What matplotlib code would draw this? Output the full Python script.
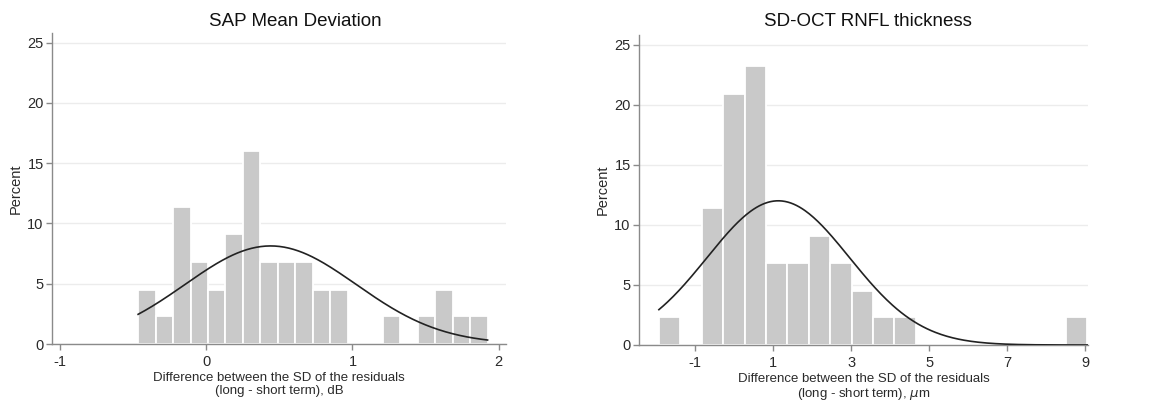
import numpy as np
import matplotlib
matplotlib.use("Agg")
import matplotlib.pyplot as plt

plt.rcParams["font.family"] = ["Liberation Sans", "DejaVu Sans"]
plt.rcParams["axes.unicode_minus"] = False

# left panel: SAP mean deviation (dB)
sap_start = -0.466
sap_width = 0.1195
sap_pct = [4.5, 2.3, 11.4, 6.8, 4.5, 9.1, 16.0, 6.8, 6.8, 6.8,
           4.5, 4.5, 0, 0, 2.3, 0, 2.3, 4.5, 2.3, 2.3]
sap_mean = 0.44
sap_sd = 0.586
sap_ticks = [-1, 0, 1, 2]

# right panel: SD-OCT RNFL thickness (um)
oct_start = -1.93
oct_width = 0.549
oct_pct = [2.3, 0, 11.4, 20.9, 23.2, 6.8, 6.8, 9.1, 6.8, 4.5,
           2.3, 2.3, 0, 0, 0, 0, 0, 0, 0, 2.3]
oct_mean = 1.13
oct_sd = 1.825
oct_ticks = [-1, 1, 3, 5, 7, 9]

y_ticks = [0, 5, 10, 15, 20, 25]

AXIS_GREY = "#8a8a8a"
TEXT = "#2a2a2a"


def panel(ax, start, width, pct, mean, sd, xticks, xlim):
    n = len(pct)
    lefts = start + width * np.arange(n)
    ax.bar(lefts, pct, width=width, align="edge", color="#c9c9c9",
           edgecolor="white", linewidth=1.3, zorder=2)
    xs = np.linspace(start, start + width * n, 300)
    dens = 100 * width / (sd * np.sqrt(2 * np.pi)) * np.exp(-0.5 * ((xs - mean) / sd) ** 2)
    ax.plot(xs, dens, color="#222222", linewidth=1.2, zorder=3)

    ax.set_xlim(*xlim)
    ax.set_ylim(0, 25.8)
    ax.set_xticks(xticks)
    ax.set_yticks(y_ticks)
    ax.yaxis.grid(True, color="#ececec", linewidth=1.0, zorder=0)
    ax.set_axisbelow(True)
    for s in ["top", "right"]:
        ax.spines[s].set_visible(False)
    for s in ["left", "bottom"]:
        ax.spines[s].set_color(AXIS_GREY)
        ax.spines[s].set_linewidth(1.0)
    ax.tick_params(colors=AXIS_GREY, labelcolor=TEXT, labelsize=10.5,
                   length=4, width=1.0, pad=2)
    ax.tick_params(axis="x", pad=4)
    ax.set_ylabel("Percent", fontsize=10.5, color=TEXT, labelpad=3)


fig = plt.figure(figsize=(11.52, 4.08), dpi=100)
ax1 = fig.add_axes([52 / 1152, 64 / 408, 454 / 1152, 311 / 408])
ax2 = fig.add_axes([639 / 1152, 63 / 408, 449 / 1152, 310 / 408])

panel(ax1, sap_start, sap_width, sap_pct, sap_mean, sap_sd, sap_ticks, (-1.055, 2.05))
panel(ax2, oct_start, oct_width, oct_pct, oct_mean, oct_sd, oct_ticks, (-2.44, 9.07))

ax1.set_xlabel("Difference between the SD of the residuals\n(long - short term), dB",
               fontsize=9.5, color=TEXT, labelpad=2, linespacing=1.1)
ax2.set_xlabel("Difference between the SD of the residuals\n(long - short term), $\\mu$m",
               fontsize=9.5, color=TEXT, labelpad=2, linespacing=1.1)

fig.text(295 / 1152, 1 - 21 / 408, "SAP Mean Deviation", ha="center", va="center",
         fontsize=13.5, color="#111111")
fig.text(868 / 1152, 1 - 21 / 408, "SD-OCT RNFL thickness", ha="center", va="center",
         fontsize=13.5, color="#111111")

fig.savefig("out.png", dpi=100, facecolor="white")
